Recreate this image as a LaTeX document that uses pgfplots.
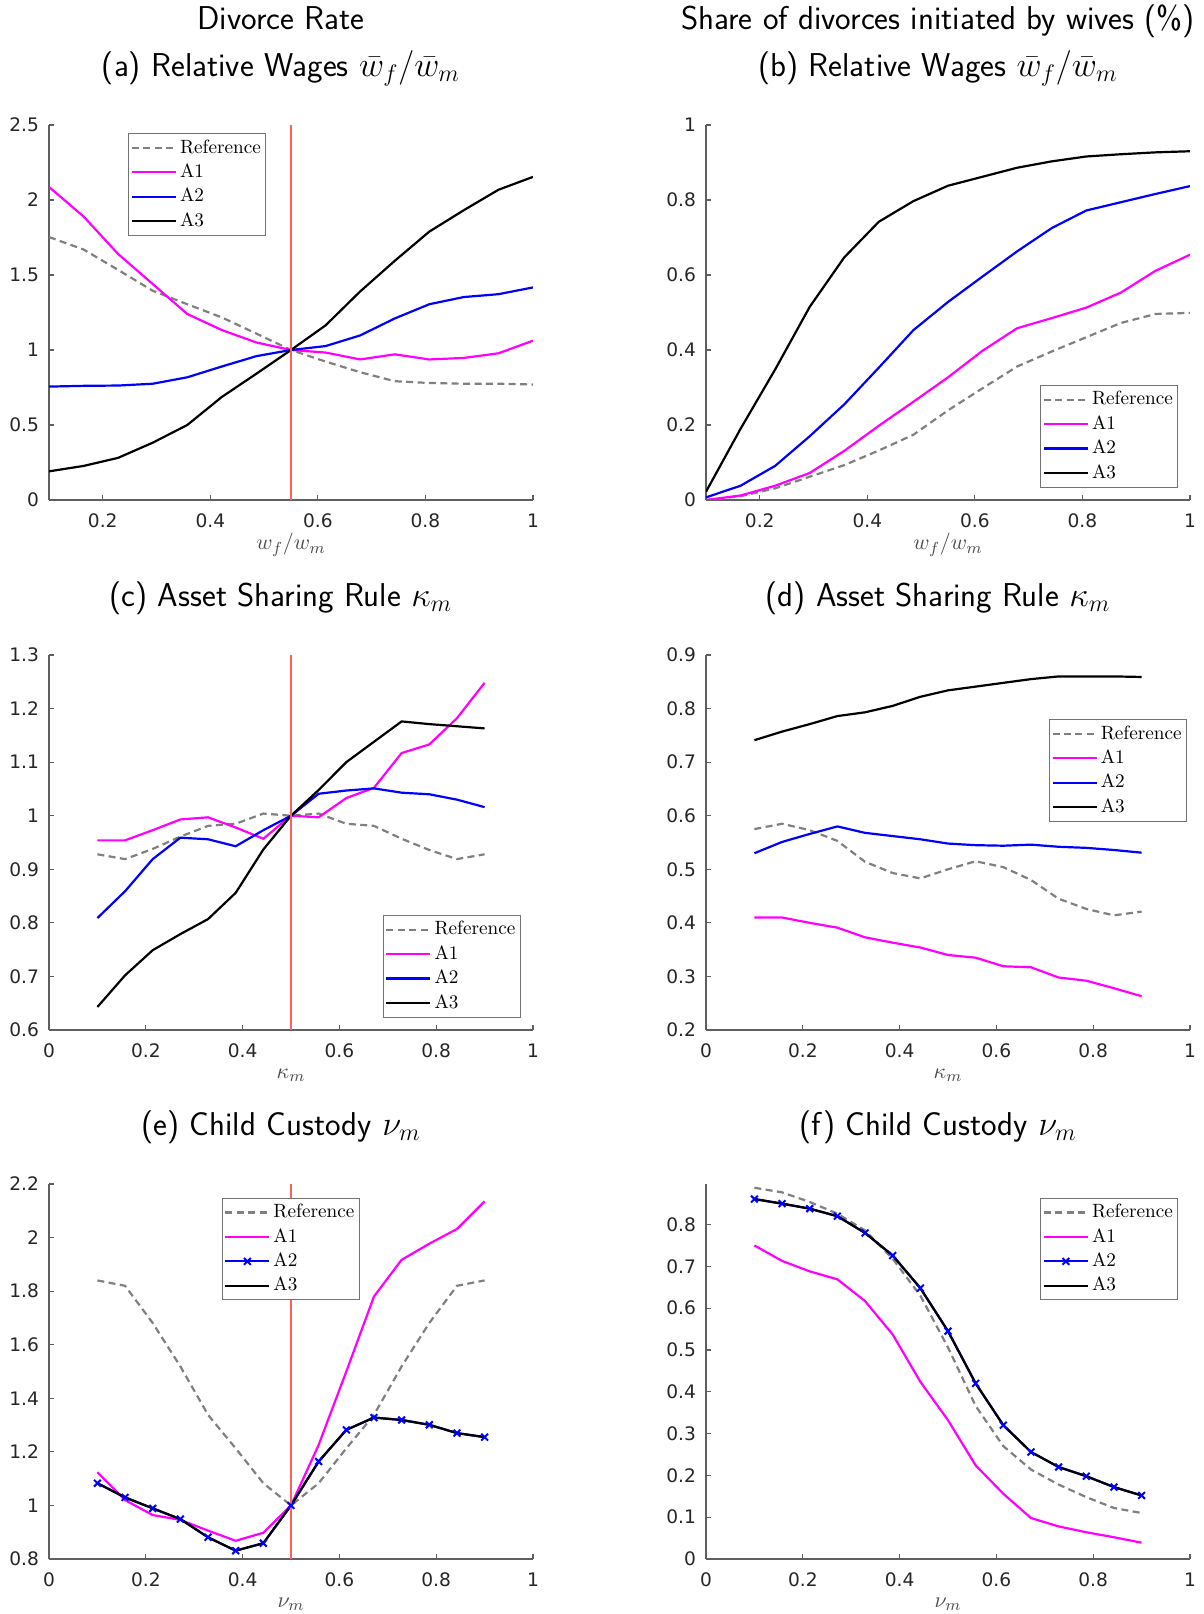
\documentclass[border=0pt]{standalone}
\usepackage{fontspec}
\usepackage{pgfplots}
\usepackage{pgfplotstable}
\pgfplotsset{compat=1.18}
\newfontfamily\tickfont{DejaVu Sans}
\definecolor{refgray}{RGB}{128,128,128}
\definecolor{vred}{RGB}{255,95,95}
\definecolor{axgray}{RGB}{95,95,95}
\definecolor{txtgray}{RGB}{38,38,38}
\definecolor{mag}{RGB}{255,0,255}
\definecolor{blu}{RGB}{0,0,255}

% Panel (a): divorce rate vs relative wages
\pgfplotstableread{
x ref a1 a2 a3
0.1     1.753 2.087 0.756 0.191
0.16429 1.670 1.890 0.761 0.227
0.22857 1.534 1.640 0.763 0.281
0.29286 1.395 1.440 0.775 0.382
0.35714 1.305 1.240 0.818 0.500
0.42143 1.217 1.133 0.890 0.687
0.48571 1.109 1.050 0.959 0.842
0.55    1.000 1.000 1.000 1.000
0.61429 0.923 0.983 1.026 1.164
0.67857 0.852 0.937 1.097 1.390
0.74286 0.792 0.971 1.210 1.594
0.80714 0.780 0.937 1.305 1.789
0.87143 0.775 0.947 1.353 1.932
0.93571 0.775 0.978 1.372 2.068
1.0     0.770 1.062 1.417 2.154
}\tabA
% Panel (b)
\pgfplotstableread{
x ref a1 a2 a3
0.1     0.000 0.000 0.007 0.022
0.16429 0.010 0.012 0.038 0.190
0.22857 0.031 0.038 0.091 0.348
0.29286 0.062 0.072 0.170 0.515
0.35714 0.093 0.131 0.255 0.647
0.42143 0.132 0.198 0.353 0.742
0.48571 0.174 0.262 0.453 0.797
0.55    0.239 0.327 0.528 0.838
0.61429 0.298 0.398 0.596 0.862
0.67857 0.356 0.458 0.663 0.886
0.74286 0.396 0.485 0.725 0.903
0.80714 0.434 0.513 0.772 0.916
0.87143 0.472 0.553 0.794 0.922
0.93571 0.496 0.611 0.816 0.927
1.0     0.499 0.654 0.837 0.930
}\tabB
% Panel (c)
\pgfplotstableread{
x ref a1 a2 a3
0.1     0.928 0.954 0.809 0.643
0.15714 0.919 0.954 0.859 0.702
0.21429 0.938 0.973 0.919 0.749
0.27143 0.961 0.993 0.959 0.779
0.32857 0.981 0.997 0.956 0.807
0.38571 0.985 0.978 0.943 0.856
0.44286 1.004 0.957 0.973 0.937
0.5     1.000 1.000 1.000 1.000
0.55714 1.004 0.997 1.041 1.048
0.61429 0.985 1.033 1.047 1.100
0.67143 0.981 1.052 1.051 1.138
0.72857 0.957 1.117 1.043 1.176
0.78571 0.936 1.133 1.040 1.171
0.84286 0.919 1.182 1.030 1.167
0.9     0.928 1.248 1.016 1.163
}\tabC
% Panel (d)
\pgfplotstableread{
x ref a1 a2 a3
0.1     0.575 0.410 0.530 0.741
0.15714 0.585 0.410 0.551 0.757
0.21429 0.573 0.400 0.566 0.771
0.27143 0.553 0.391 0.580 0.786
0.32857 0.514 0.373 0.568 0.793
0.38571 0.493 0.363 0.562 0.805
0.44286 0.483 0.354 0.556 0.822
0.5     0.500 0.340 0.548 0.834
0.55714 0.515 0.335 0.545 0.841
0.61429 0.504 0.319 0.544 0.848
0.67143 0.480 0.317 0.546 0.855
0.72857 0.445 0.298 0.542 0.860
0.78571 0.426 0.292 0.540 0.860
0.84286 0.414 0.278 0.536 0.860
0.9     0.421 0.263 0.531 0.859
}\tabD
% Panel (e)
\pgfplotstableread{
x ref a1 a2 a3
0.1     1.840 1.124 1.083 1.083
0.15714 1.820 1.020 1.030 1.030
0.21429 1.681 0.964 0.989 0.989
0.27143 1.519 0.946 0.949 0.949
0.32857 1.338 0.906 0.881 0.881
0.38571 1.213 0.868 0.831 0.831
0.44286 1.083 0.898 0.859 0.859
0.5     1.000 1.000 1.000 1.000
0.55714 1.083 1.226 1.164 1.164
0.61429 1.213 1.500 1.282 1.282
0.67143 1.338 1.780 1.328 1.328
0.72857 1.519 1.917 1.319 1.319
0.78571 1.681 1.977 1.301 1.301
0.84286 1.820 2.032 1.270 1.270
0.9     1.840 2.135 1.255 1.255
}\tabE
% Panel (f)
\pgfplotstableread{
x ref a1 a2 a3
0.1     0.888 0.750 0.861 0.861
0.15714 0.877 0.713 0.850 0.850
0.21429 0.854 0.688 0.838 0.838
0.27143 0.826 0.669 0.820 0.820
0.32857 0.786 0.617 0.780 0.780
0.38571 0.718 0.537 0.726 0.726
0.44286 0.630 0.424 0.648 0.648
0.5     0.506 0.332 0.545 0.545
0.55714 0.366 0.224 0.420 0.420
0.61429 0.270 0.156 0.320 0.320
0.67143 0.214 0.098 0.256 0.256
0.72857 0.178 0.078 0.220 0.220
0.78571 0.148 0.064 0.198 0.198
0.84286 0.122 0.052 0.172 0.172
0.9     0.110 0.039 0.152 0.152
}\tabF

\pgfplotsset{
  panel/.style={
    scale only axis, width=242pt, height=187.5pt,
    axis x line*=bottom, axis y line*=left,
    axis line style={axgray, line width=0.6pt, -},
    tick align=inside, major tick length=2.5pt,
    every tick/.style={axgray, line width=0.6pt},
    tick label style={font=\fontsize{9.3}{11}\selectfont\tickfont, text=txtgray},
    /pgf/number format/assume math mode=true,
    xticklabel style={yshift=-3.5pt},
    yticklabel style={xshift=-1.5pt},
    title style={at={(axis description cs:0.5,1)}, anchor=base, yshift=18.3pt, xshift=-5pt,
      font=\fontsize{16.5}{19}\sffamily, text=black},
    xlabel style={at={(axis description cs:0.5,0)}, anchor=center, yshift=-22.5pt,
      font=\fontsize{11.3}{13}\selectfont, text=black!70},
    legend cell align=left,
    legend style={font=\fontsize{9.6}{11}\selectfont, draw=black!55, fill=white,
      line width=0.5pt, inner sep=1pt,
      nodes={text height=7.2pt, text depth=2pt, inner sep=1.5pt}},
    legend image code/.code={\draw[mark repeat=2,mark phase=2]
      plot coordinates {(0pt,0pt) (11pt,0pt) (22pt,0pt)};},
  },
  refl/.style={refgray, line width=1.1pt, dash pattern=on 3.5pt off 2.2pt},
  a1l/.style={mag, line width=1.1pt},
  a2l/.style={blu, line width=1.1pt},
  a3l/.style={black, line width=1.1pt},
  a2m/.style={blu, line width=1.1pt, mark=x, mark size=2.4pt, mark options={solid, blu, line width=1pt}},
  vline/.style={vred, line width=1.3pt, forget plot},
}

\begin{document}
\begin{tikzpicture}
\useasboundingbox (0,0) rectangle (602pt,807pt);

% (a)
\begin{axis}[panel, name=axA, at={(24.5pt,557pt)}, anchor=south west,
  xmin=0.1, xmax=1, ymin=0, ymax=2.5,
  xtick={0.2,0.4,0.6,0.8,1}, ytick={0,0.5,1,1.5,2,2.5},
  title={(a) Relative Wages $\bar{w}_f/\bar{w}_m$},
  xlabel={$w_f/w_m$},
  legend style={at={(0.164,0.978)}, anchor=north west}]
\addplot[refl] table[x=x,y=ref]{\tabA}; \addlegendentry{Reference}
\addplot[a1l] table[x=x,y=a1]{\tabA}; \addlegendentry{A1}
\addplot[a2l] table[x=x,y=a2]{\tabA}; \addlegendentry{A2}
\addplot[a3l] table[x=x,y=a3]{\tabA}; \addlegendentry{A3}
\addplot[vline] coordinates {(0.55,0) (0.55,2.5)};
\end{axis}

% (b)
\begin{axis}[panel, name=axB, at={(353pt,557pt)}, anchor=south west,
  xmin=0.1, xmax=1, ymin=0, ymax=1,
  xtick={0.2,0.4,0.6,0.8,1}, ytick={0,0.2,0.4,0.6,0.8,1},
  title={(b) Relative Wages $\bar{w}_f/\bar{w}_m$},
  xlabel={$w_f/w_m$},
  legend style={at={(0.976,0.033)}, anchor=south east}]
\addplot[refl] table[x=x,y=ref]{\tabB}; \addlegendentry{Reference}
\addplot[a1l] table[x=x,y=a1]{\tabB}; \addlegendentry{A1}
\addplot[a2l] table[x=x,y=a2]{\tabB}; \addlegendentry{A2}
\addplot[a3l] table[x=x,y=a3]{\tabB}; \addlegendentry{A3}
\end{axis}

\node[font=\fontsize{16.5}{19}\sffamily, anchor=base] at ([xshift=-5pt,yshift=47.5pt]axA.north) {Divorce Rate};
\node[font=\fontsize{16.5}{19}\sffamily, anchor=base] at ([xshift=-5pt,yshift=47.5pt]axB.north) {Share of divorces initiated by wives (\%)};

% (c)
\begin{axis}[panel, at={(24.5pt,292pt)}, anchor=south west,
  xmin=0, xmax=1, ymin=0.6, ymax=1.3,
  xtick={0,0.2,0.4,0.6,0.8,1}, ytick={0.6,0.7,0.8,0.9,1,1.1,1.2,1.3},
  title={(c) Asset Sharing Rule $\kappa_m$},
  xlabel={$\kappa_m$},
  legend style={at={(0.975,0.033)}, anchor=south east}]
\addplot[refl] table[x=x,y=ref]{\tabC}; \addlegendentry{Reference}
\addplot[a1l] table[x=x,y=a1]{\tabC}; \addlegendentry{A1}
\addplot[a2l] table[x=x,y=a2]{\tabC}; \addlegendentry{A2}
\addplot[a3l] table[x=x,y=a3]{\tabC}; \addlegendentry{A3}
\addplot[vline] coordinates {(0.5,0.6) (0.5,1.3)};
\end{axis}

% (d)
\begin{axis}[panel, at={(353pt,292pt)}, anchor=south west,
  xmin=0, xmax=1, ymin=0.2, ymax=0.9,
  xtick={0,0.2,0.4,0.6,0.8,1}, ytick={0.2,0.3,0.4,0.5,0.6,0.7,0.8,0.9},
  title={(d) Asset Sharing Rule $\kappa_m$},
  xlabel={$\kappa_m$},
  legend style={at={(0.994,0.829)}, anchor=north east}]
\addplot[refl] table[x=x,y=ref]{\tabD}; \addlegendentry{Reference}
\addplot[a1l] table[x=x,y=a1]{\tabD}; \addlegendentry{A1}
\addplot[a2l] table[x=x,y=a2]{\tabD}; \addlegendentry{A2}
\addplot[a3l] table[x=x,y=a3]{\tabD}; \addlegendentry{A3}
\end{axis}

% (e)
\begin{axis}[panel, at={(24.5pt,27.5pt)}, anchor=south west,
  xmin=0, xmax=1, ymin=0.8, ymax=2.2,
  xtick={0,0.2,0.4,0.6,0.8,1}, ytick={0.8,1,1.2,1.4,1.6,1.8,2,2.2},
  title={(e) Child Custody $\nu_m$},
  xlabel={$\nu_m$},
  legend style={at={(0.357,0.963)}, anchor=north west}]
\addplot[refl] table[x=x,y=ref]{\tabE}; \addlegendentry{Reference}
\addplot[a1l] table[x=x,y=a1]{\tabE}; \addlegendentry{A1}
\addplot[a2m] table[x=x,y=a2]{\tabE}; \addlegendentry{A2}
\addplot[a3l] table[x=x,y=a3]{\tabE}; \addlegendentry{A3}
\addplot[vline] coordinates {(0.5,0.8) (0.5,2.2)};
\end{axis}

% (f)
\begin{axis}[panel, at={(353pt,27.5pt)}, anchor=south west,
  xmin=0, xmax=1, ymin=0, ymax=0.897,
  xtick={0,0.2,0.4,0.6,0.8,1}, ytick={0,0.1,0.2,0.3,0.4,0.5,0.6,0.7,0.8},
  title={(f) Child Custody $\nu_m$},
  xlabel={$\nu_m$},
  legend style={at={(0.976,0.963)}, anchor=north east}]
\addplot[refl] table[x=x,y=ref]{\tabF}; \addlegendentry{Reference}
\addplot[a1l] table[x=x,y=a1]{\tabF}; \addlegendentry{A1}
\addplot[a2m] table[x=x,y=a2]{\tabF}; \addlegendentry{A2}
\addplot[a3l] table[x=x,y=a3]{\tabF}; \addlegendentry{A3}
\end{axis}
\end{tikzpicture}
\end{document}
